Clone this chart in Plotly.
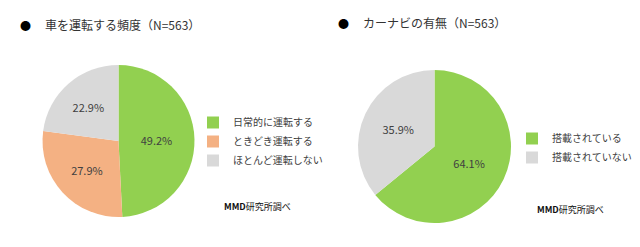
import plotly.graph_objects as go

# Data
freq_labels = ["日常的に運転する", "ときどき運転する", "ほとんど運転しない"]
freq_values = [49.2, 27.9, 22.9]
nav_labels = ["搭載されている", "搭載されていない"]
nav_values = [64.1, 35.9]
title_left = "車を運転する頻度（N=563）"
title_right = "カーナビの有無（N=563）"
source_text = "<b>MMD</b>研究所調べ"

GREEN = "#92D050"
ORANGE = "#F4B183"
GRAY = "#D9D9D9"
TXT = "#404040"
FONT = "Noto Sans CJK JP"

W, H = 640, 247

def px(x):
    return x / W

def py(y):
    return 1 - y / H

fig = go.Figure()

fig.add_trace(go.Pie(
    labels=freq_labels, values=freq_values, sort=False, direction="clockwise",
    rotation=0, marker=dict(colors=[GREEN, ORANGE, GRAY], line=dict(width=0)),
    texttemplate="%{value:.1f}%", textposition="inside", insidetextorientation="horizontal",
    textfont=dict(size=11, color=TXT, family=FONT),
    domain=dict(x=[px(42), px(195)], y=[py(217), py(65)]),
    legend="legend", hoverinfo="label+value",
))

fig.add_trace(go.Pie(
    labels=nav_labels, values=nav_values, sort=False, direction="clockwise",
    rotation=0, marker=dict(colors=[GREEN, GRAY], line=dict(width=0)),
    texttemplate="%{value:.1f}%", textposition="inside", insidetextorientation="horizontal",
    textfont=dict(size=11, color=TXT, family=FONT),
    domain=dict(x=[px(358), px(511)], y=[py(223), py(70)]),
    legend="legend2", hoverinfo="label+value",
))

annotations = []
for bx, tx, ty, t in [(25, 43, 25, title_left), (343, 361, 23, title_right)]:
    annotations.append(dict(x=px(bx), y=py(ty), xref="paper", yref="paper", text="●",
                            showarrow=False, xanchor="center", yanchor="middle",
                            font=dict(size=11, color="#000000", family=FONT)))
    annotations.append(dict(x=px(tx), y=py(ty), xref="paper", yref="paper", text=t,
                            showarrow=False, xanchor="left", yanchor="middle",
                            font=dict(size=12, color="#333333", family=FONT)))
for sx, sy in [(222, 206), (535, 209)]:
    annotations.append(dict(x=px(sx), y=py(sy), xref="paper", yref="paper", text=source_text,
                            showarrow=False, xanchor="left", yanchor="middle",
                            font=dict(size=9, color="#111111", family=FONT)))

legend_common = dict(
    xanchor="left", yanchor="top", bgcolor="rgba(0,0,0,0)",
    font=dict(size=10, color=TXT, family=FONT), itemwidth=30,
    itemclick=False, itemdoubleclick=False,
)

fig.update_layout(
    width=W, height=H, margin=dict(l=0, r=0, t=0, b=0),
    paper_bgcolor="white", plot_bgcolor="white",
    showlegend=True,
    legend=dict(x=px(193), y=py(108), **legend_common),
    legend2=dict(x=px(512), y=py(124), **legend_common),
    annotations=annotations,
)

fig.write_html("out.html")
